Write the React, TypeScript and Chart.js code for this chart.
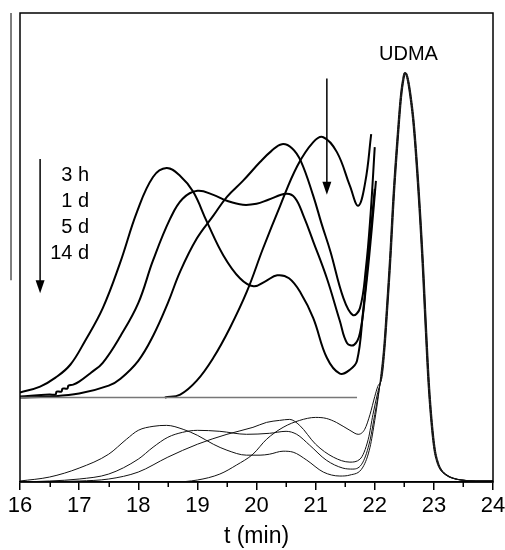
import React, { useEffect, useRef } from 'react';
import { Chart, registerables } from 'chart.js';

Chart.register(...registerables);

type Pt = [number, number];

const FONT = "'Liberation Sans', Arial, Helvetica, sans-serif";

// axis ranges (time in min, detector signal in arbitrary units)
const X_MIN = 16;
const X_MAX = 24;
const Y_MIN = 0;
const Y_MAX = 472;
const MINOR_TICKS = [16.5, 17.5, 18.5, 19.5, 20.5, 21.5, 22.5, 23.5];

// raw chromatograms (thin lines)
const THIN_3H: Pt[] = [[16, 1], [16.5, 5], [17, 14], [17.5, 28], [17.8, 43], [18, 52], [18.25, 56], [18.48, 57], [18.76, 53], [19, 47], [19.27, 38], [19.5, 32], [19.83, 27], [20.06, 27], [20.22, 28], [20.45, 31], [20.62, 30], [20.85, 22], [21.13, 10], [21.41, 6], [21.58, 7], [21.8, 15], [21.92, 35], [22, 62], [22.06, 86]];
const THIN_1D: Pt[] = [[16, 0], [16.5, 1], [17, 3], [17.5, 8], [18, 23], [18.25, 35], [18.5, 45], [18.75, 50], [19, 52], [19.38, 51], [19.83, 48], [20.22, 49], [20.5, 51], [20.68, 48], [20.9, 37], [21.18, 22], [21.46, 14], [21.63, 13], [21.8, 20], [21.92, 42], [22, 68], [22.06, 88]];
const THIN_5D: Pt[] = [[16, 0], [17, 1], [17.5, 3], [18, 10], [18.5, 25], [19, 38], [19.5, 48], [19.94, 55], [20.17, 60], [20.39, 62], [20.56, 63], [20.73, 57], [21, 38], [21.3, 25], [21.58, 20], [21.75, 23], [21.89, 43], [21.97, 68], [22.05, 90]];
const THIN_14D: Pt[] = [[16, 0], [18.6, 0], [19, 2], [19.38, 8], [19.66, 17], [19.94, 28], [20.17, 43], [20.45, 55], [20.73, 62], [21, 65], [21.18, 64], [21.35, 60], [21.58, 52], [21.72, 48], [21.83, 53], [21.92, 68], [22, 86], [22.05, 96]];
// common UDMA monomer peak, and the small retention shift of each run
const UDMA_PEAK: Pt[] = [[22.1, 106], [22.15, 135], [22.2, 178], [22.25, 225], [22.31, 290], [22.38, 350], [22.43, 387], [22.47, 405], [22.5, 412], [22.54, 407], [22.6, 385], [22.65, 358], [22.73, 292], [22.8, 220], [22.85, 158], [22.9, 100], [22.95, 60], [23, 33], [23.05, 20], [23.1, 13], [23.2, 7], [23.3, 4], [23.45, 2], [23.7, 1], [24, 1]];
const UDMA_SHIFT = [0, 0.008, 0.016, 0.024];

// magnified, offset chromatograms (thick lines)
const THICK_3H: Pt[] = [[16, 90], [16.34, 96], [16.6, 105], [16.85, 118], [17.1, 142], [17.4, 175], [17.69, 220], [17.98, 272], [18.25, 307], [18.48, 316], [18.71, 308], [18.93, 292], [19.16, 262], [19.44, 228], [19.72, 205], [19.95, 197], [20.15, 202], [20.35, 208], [20.55, 205], [20.75, 190], [20.96, 165], [21.19, 125], [21.41, 109], [21.58, 113], [21.7, 122], [21.8, 170], [21.9, 232], [22, 295]];
const THICK_1D: Pt[] = [[16, 86], [16.5, 88], [16.6, 88], [16.62, 91], [16.7, 91], [16.72, 94], [16.8, 94], [16.82, 97], [16.9, 98], [17, 101], [17.2, 110], [17.4, 120], [17.7, 147], [18, 180], [18.25, 223], [18.54, 265], [18.75, 285], [19, 293], [19.27, 289], [19.5, 283], [19.77, 279], [20, 280], [20.2, 284], [20.5, 290], [20.65, 286], [20.8, 267], [20.96, 242], [21.19, 205], [21.41, 162], [21.53, 140], [21.65, 138], [21.75, 150], [21.85, 195], [21.95, 255], [22.02, 303]];
const THICK_5D: Pt[] = [[16, 85], [16.5, 86], [17, 89], [17.5, 97], [17.7, 104], [18, 122], [18.25, 147], [18.5, 180], [18.71, 212], [18.99, 245], [19.27, 268], [19.5, 287], [19.77, 303], [20.06, 322], [20.25, 333], [20.43, 340], [20.6, 336], [20.75, 323], [20.96, 288], [21.1, 260], [21.25, 232], [21.47, 185], [21.63, 168], [21.75, 175], [21.85, 215], [21.93, 270], [22, 337]];
const THICK_14D: Pt[] = [[18.45, 85], [18.71, 88], [18.99, 102], [19.27, 125], [19.55, 155], [19.84, 192], [20.11, 235], [20.4, 278], [20.69, 318], [20.96, 342], [21.13, 347], [21.36, 332], [21.58, 298], [21.72, 278], [21.84, 302], [21.94, 350]];
const OFFSET_BASELINE: Pt[] = [[16, 85], [21.7, 85]];

// annotations (data coordinates)
const SAMPLE_LABELS = ['3 h', '1 d', '5 d', '14 d'];
const SAMPLE_LABEL_X = 17.17;
const SAMPLE_LABEL_Y = [308, 282, 256, 230];
const LEFT_ARROW: [number, number, number] = [16.34, 325, 190];
const RIGHT_ARROW: [number, number, number] = [21.19, 406, 289];
const PEAK_LABEL = 'UDMA';
const PEAK_LABEL_POS: Pt = [22.57, 430];
const SCALE_BAR: [number, number, number] = [15.848, 472, 203];

const toXY = (pts: Pt[]) => pts.map(([x, y]) => ({ x, y }));

const thin = (pts: Pt[], i: number) => ({
  data: toXY([...pts, ...UDMA_PEAK.map(([t, v]) => [t + UDMA_SHIFT[i], v] as Pt)]),
  borderColor: '#111',
  borderWidth: 1,
  showLine: true,
  pointRadius: 0,
  cubicInterpolationMode: 'monotone' as const,
});
const thick = (pts: Pt[]) => ({
  data: toXY(pts),
  borderColor: '#000',
  borderWidth: 2,
  showLine: true,
  pointRadius: 0,
  tension: 0.4,
});

const annotate = {
  id: 'annotate',
  afterDatasetsDraw(chart: any) {
    const { ctx, chartArea: a, scales } = chart;
    const x = scales.x;
    const y = scales.y;
    ctx.save();
    // frame
    ctx.strokeStyle = '#000';
    ctx.lineWidth = 1.5;
    ctx.strokeRect(a.left, a.top, a.right - a.left, a.bottom - a.top);
    // minor ticks
    ctx.beginPath();
    for (const t of MINOR_TICKS) {
      const px = Math.round(x.getPixelForValue(t)) + 0.25;
      ctx.moveTo(px, a.bottom);
      ctx.lineTo(px, a.bottom + 5);
    }
    ctx.stroke();
    // scale bar on the left
    ctx.strokeStyle = '#555';
    ctx.lineWidth = 1.5;
    ctx.beginPath();
    const sbx = x.getPixelForValue(SCALE_BAR[0]);
    ctx.moveTo(sbx, y.getPixelForValue(SCALE_BAR[1]));
    ctx.lineTo(sbx, y.getPixelForValue(SCALE_BAR[2]));
    ctx.stroke();
    // arrows
    const arrow = ([t, v0, v1]: [number, number, number]) => {
      const px = x.getPixelForValue(t);
      const y0 = y.getPixelForValue(v0);
      const y1 = y.getPixelForValue(v1);
      ctx.strokeStyle = '#000';
      ctx.fillStyle = '#000';
      ctx.lineWidth = 1.5;
      ctx.beginPath();
      ctx.moveTo(px, y0);
      ctx.lineTo(px, y1 - 10);
      ctx.stroke();
      ctx.beginPath();
      ctx.moveTo(px - 4.5, y1 - 13);
      ctx.lineTo(px + 4.5, y1 - 13);
      ctx.lineTo(px, y1);
      ctx.closePath();
      ctx.fill();
    };
    arrow(LEFT_ARROW);
    arrow(RIGHT_ARROW);
    // labels
    ctx.fillStyle = '#000';
    ctx.font = `20px ${FONT}`;
    ctx.textBaseline = 'middle';
    ctx.textAlign = 'right';
    SAMPLE_LABELS.forEach((s, i) => {
      ctx.fillText(s, x.getPixelForValue(SAMPLE_LABEL_X), y.getPixelForValue(SAMPLE_LABEL_Y[i]));
    });
    ctx.textAlign = 'center';
    ctx.fillText(PEAK_LABEL, x.getPixelForValue(PEAK_LABEL_POS[0]), y.getPixelForValue(PEAK_LABEL_POS[1]));
    ctx.restore();
  },
};

export default function App() {
  const ref = useRef<HTMLCanvasElement>(null);
  useEffect(() => {
    document.body.style.margin = '0';
    const chart = new Chart(ref.current as HTMLCanvasElement, {
      type: 'scatter',
      data: {
        datasets: [
          thin(THIN_3H, 0),
          thin(THIN_1D, 1),
          thin(THIN_5D, 2),
          thin(THIN_14D, 3),
          {
            data: toXY(OFFSET_BASELINE),
            borderColor: '#777',
            borderWidth: 1.5,
            showLine: true,
            pointRadius: 0,
          },
          thick(THICK_3H),
          thick(THICK_1D),
          thick(THICK_5D),
          thick(THICK_14D),
        ],
      },
      options: {
        animation: false,
        responsive: false,
        maintainAspectRatio: false,
        layout: { padding: { left: 20, right: 12, top: 13, bottom: 0 } },
        plugins: { legend: { display: false }, tooltip: { enabled: false } },
        scales: {
          x: {
            type: 'linear',
            min: X_MIN,
            max: X_MAX,
            afterFit: (scale: any) => {
              scale.paddingLeft = 0;
              scale.paddingRight = 0;
            },
            ticks: { stepSize: 1, color: '#000', padding: 3, font: { family: FONT, size: 22 } },
            grid: { display: true, drawOnChartArea: false, drawTicks: true, tickLength: 8, color: '#000', lineWidth: 1.5 },
            border: { display: true, color: '#000', width: 1.5 },
            title: { display: true, text: 't (min)', color: '#000', padding: { top: 0, bottom: 0 }, font: { family: FONT, size: 23 } },
          },
          y: { display: false, min: Y_MIN, max: Y_MAX },
        },
      },
      plugins: [annotate],
    } as any);
    return () => chart.destroy();
  }, []);
  return <canvas ref={ref} width={505} height={550} style={{ display: 'block' }} />;
}
